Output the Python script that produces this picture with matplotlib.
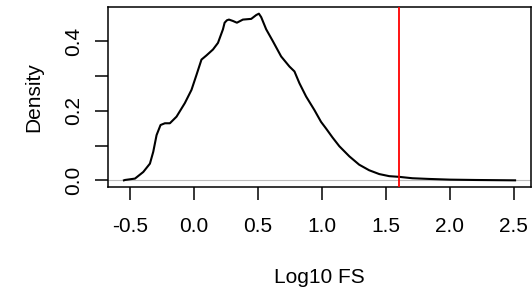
import matplotlib.pyplot as plt

plt.rcParams["font.family"] = ["Liberation Sans", "DejaVu Sans"]

# density curve
log_fs = [-0.548, -0.540, -0.462, -0.397, -0.345, -0.319, -0.293, -0.262, -0.228,
          -0.189, -0.137, -0.072, -0.020, 0.019, 0.058, 0.097, 0.148, 0.187,
          0.226, 0.239, 0.257, 0.273, 0.304, 0.335, 0.382, 0.447, 0.486, 0.507,
          0.525, 0.564, 0.616, 0.681, 0.746, 0.785, 0.824, 0.876, 0.941, 0.993,
          1.032, 1.083, 1.136, 1.214, 1.291, 1.369, 1.448, 1.526, 1.604, 1.707,
          1.837, 2.000, 2.200, 2.510]
density = [0.000, 0.001, 0.005, 0.024, 0.048, 0.082, 0.130, 0.159, 0.164,
           0.164, 0.183, 0.222, 0.260, 0.303, 0.347, 0.359, 0.376, 0.395,
           0.434, 0.453, 0.460, 0.462, 0.458, 0.453, 0.462, 0.464, 0.475, 0.479,
           0.469, 0.434, 0.400, 0.356, 0.327, 0.313, 0.279, 0.241, 0.202, 0.168,
           0.149, 0.123, 0.098, 0.069, 0.045, 0.029, 0.018, 0.012, 0.010, 0.006,
           0.004, 0.002, 0.001, 0.000]
cutoff = 1.602  # log10(40)

x_ticks = [-0.5, 0.0, 0.5, 1.0, 1.5, 2.0, 2.5]
y_ticks = [0.0, 0.1, 0.2, 0.3, 0.4]
y_labels = ["0.0", "", "0.2", "", "0.4"]

fig = plt.figure(figsize=(5.32, 2.88), dpi=100)
ax = fig.add_axes([0.2036, 0.3507, 0.794, 0.625])

ax.axhline(0, color="#bebebe", lw=0.8, zorder=1)
ax.plot(log_fs, density, color="black", lw=1.5, zorder=2,
        solid_joinstyle="round")
ax.axvline(cutoff, color="red", lw=1.3, zorder=3)

# R style 4% padding
xr = max(log_fs) - min(log_fs)
ax.set_xlim(min(log_fs) - 0.04 * xr, max(log_fs) + 0.04 * xr)
yr = max(density)
ax.set_ylim(-0.04 * yr, yr * 1.04)

ax.set_xticks(x_ticks)
ax.set_xticklabels(["-0.5", "0.0", "0.5", "1.0", "1.5", "2.0", "2.5"])
ax.set_yticks(y_ticks)
ax.set_yticklabels(y_labels, rotation=90, va="center")
ax.tick_params(length=9.5, width=1.1, labelsize=15)
ax.tick_params(axis="x", pad=12)
ax.tick_params(axis="y", pad=8.5)
for s in ax.spines.values():
    s.set_linewidth(1.1)

ax.set_xlabel("Log10 FS", fontsize=15, labelpad=23)
ax.set_ylabel("Density", fontsize=15, labelpad=15)

fig.savefig("out.png", dpi=100)
